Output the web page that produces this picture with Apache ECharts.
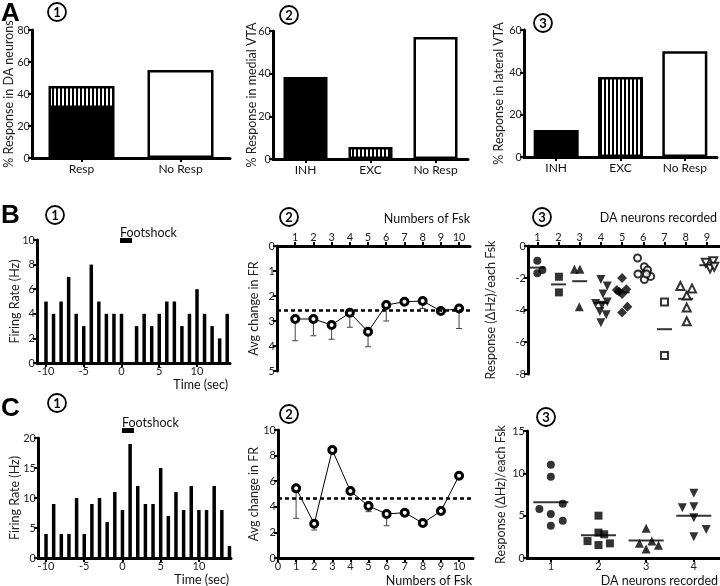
<!DOCTYPE html>
<html><head><meta charset="utf-8">
<script src="https://cdn.jsdelivr.net/npm/echarts@6/dist/echarts.min.js"></script>
<style>html,body{margin:0;padding:0;background:#fff}#c{width:720px;height:586px}</style>
</head><body><div id="c"></div>
<script>
// ---------- DATA ----------
const a1Cats = ['Resp', 'No Resp'];
const a1Inh = [31.3, '-'];
const a1Exc = [13.7, '-'];
const a1NoResp = ['-', 55];

const a2Cats = ['INH', 'EXC', 'No Resp'];
const a2Values = [38.4, 5.6, 57.2];
const a3Cats = ['INH', 'EXC', 'No Resp'];
const a3Values = [12.8, 37.8, 50];

const binTimes = [-10,-9,-8,-7,-6,-5,-4,-3,-2,-1,0,1,2,3,4,5,6,7,8,9,10,11,12,13,14];
const b1Rates = [5,4,5,7,4,3,8,5,4,4,4,0,3,4,3,4,5,5,3,4,6,4,3,2,4];
const c1Rates = [4,9,4,4,10,4,9,10,6,11,8,19,12,9,9,15,7,11,8,12,8,8,12,8,2];
const timeTicks = [-10,-5,0,5,10];

const fsk = [1,2,3,4,5,6,7,8,9,10];
const b2Mean = [2.92,2.92,3.16,2.67,3.43,2.36,2.23,2.2,2.6,2.5];
const b2ErrEnd = [3.79,3.59,3.73,3.25,4.03,3.0,2.3,2.5,2.65,3.3];
const b2Avg = 2.57;
const c2Mean = [5.44,2.68,8.44,5.23,4.06,3.44,3.54,2.73,3.67,6.43];
const c2ErrEnd = [3.1,2.19,8.3,5.1,3.62,2.52,3.4,2.6,3.5,6.3];
const c2Avg = 4.66;

// B3: per neuron, x (neuron index with jitter) and response values
const b3X = [
  [1.0,1.24,1.0],
  [2.02,2.02],
  [2.75,3.01,2.98],
  [4.0,4.3,4.1,3.75,4.05,4.3,3.95,4.25,4.0],
  [5.0,4.75,5.2,5.0,4.85,5.25,5.0],
  [5.73,6.05,6.2,5.75,6.35,6.05,6.15],
  [7.0,7.0],
  [7.75,8.3,8.05,8.05,8.05],
  [8.95,9.3,9.15,9.35]
];
const b3Y = [
  [-0.92,-1.5,-1.7],
  [-1.92,-2.9],
  [-1.46,-1.46,-3.8],
  [-2.1,-2.5,-3.0,-3.6,-3.7,-3.5,-4.1,-4.3,-4.8],
  [-2.0,-2.75,-2.7,-3.0,-2.85,-3.8,-4.15],
  [-0.75,-1.3,-1.5,-1.75,-1.9,-2.1,-1.75],
  [-3.5,-6.85],
  [-2.5,-2.65,-3.1,-3.85,-4.7],
  [-1.05,-0.95,-1.4,-1.3]
];
const b3Means = [-1.35,-2.4,-2.2,-3.55,-2.9,-1.6,-5.2,-3.3,-1.2];
const b3Neurons = [1,2,3,4,5,6,7,8,9];

const c3X = [
  [1.0,1.0,0.76,1.0,1.25,1.0,1.25],
  [2.0,2.0,1.77,2.12,2.24,2.0],
  [3.0,2.86,3.0,3.12,3.26],
  [4.0,3.76,4.0,4.0,4.0,4.26]
];
const c3Y = [
  [11.0,9.6,5.8,5.2,6.4,3.8,4.4],
  [5.0,3.0,2.0,2.8,1.73,1.53],
  [3.5,1.73,1.06,2.0,1.5],
  [7.64,5.94,6.06,4.76,2.52,3.38]
];
const c3Means = [6.57,2.7,2.08,5.0];
const c3Neurons = [1,2,3,4];

// ---------- STYLE ----------
const FF = 'Lato, "Open Sans", sans-serif';
const BLACK = '#000';
const hatch = document.createElement('canvas');
hatch.width = 4; hatch.height = 4;
(function(){const g = hatch.getContext('2d'); g.fillStyle='#fff'; g.fillRect(0,0,4,4); g.fillStyle='#000'; g.fillRect(0,0,2,4);})();
const HATCH = {image: hatch, repeat: 'repeat'};
const fills = {INH: BLACK, EXC: HATCH, 'No Resp': '#fff'};

const chart = echarts.init(document.getElementById('c'));

const grids = [
  {left:32, top:30, width:198, height:128},
  {left:273, top:31, width:195, height:128},
  {left:524, top:30, width:193, height:127},
  {left:37, top:240, width:193, height:123},
  {left:277, top:246, width:193, height:125},
  {left:528, top:246, width:192, height:128},
  {left:38, top:438, width:193, height:120},
  {left:278, top:430, width:195, height:128},
  {left:527, top:431, width:193, height:127}
];

const axLine = {show:true, onZero:false, lineStyle:{color:BLACK, width:3}};
const axTick = {show:true, length:4, lineStyle:{color:BLACK, width:2}};
const axLabelX = {color:'#222', fontSize:11, fontFamily:FF, margin:3};
const axLabelY = {color:'#222', fontSize:11, fontFamily:FF, margin:2};
const nameStyle = {color:'#222', fontSize:12.5, fontFamily:FF};

function catX(gi, data, extra) {
  return Object.assign({gridIndex:gi, type:'category', data, axisLine:axLine,
    axisTick:Object.assign({alignWithLabel:true}, axTick),
    axisLabel:Object.assign({}, axLabelX, {fontSize:12, color:'#111', margin:5}), splitLine:{show:false}}, extra||{});
}
function valAx(gi, min, max, interval, extra) {
  const o = {gridIndex:gi, type:'value', min, max, axisLine:axLine, axisTick:Object.assign({}, axTick),
    axisLabel:Object.assign({}, axLabelY), splitLine:{show:false}};
  if (interval) o.interval = interval;
  return Object.assign(o, extra||{});
}
function customX(gi, min, max, ticks, extra) {
  return Object.assign({gridIndex:gi, type:'value', min, max, axisLine:axLine,
    axisTick:Object.assign({customValues:ticks}, axTick),
    axisLabel:Object.assign({customValues:ticks}, axLabelX), splitLine:{show:false}}, extra||{});
}
function yName(name, gap) {
  return {name, nameLocation:'middle', nameGap:gap, nameMoveOverlap:false, nameTextStyle:nameStyle};
}

const xAxes = [
  catX(0, a1Cats),
  catX(1, a2Cats),
  catX(2, a3Cats),
  customX(3, -11.19, 14.37, timeTicks),
  customX(4, 0, 10.6, fsk, {position:'top'}),
  customX(5, 0.56, 9.62, b3Neurons, {position:'top'}),
  customX(6, -11.05, 14.2, timeTicks),
  customX(7, 0, 10.77, [0].concat(fsk)),
  customX(8, 0.5, 4.55, c3Neurons)
];
const yAxes = [
  valAx(0, 0, 80, 20, yName('% Response in DA neurons', 17)),
  valAx(1, 0, 60, 20, yName('% Response in medial VTA', 15)),
  valAx(2, 0, 60, 20, yName('% Response in lateral VTA', 19)),
  valAx(3, 0, 10, 2, yName('Firing Rate (Hz)', 16)),
  valAx(4, 0, 5, 1, Object.assign({inverse:true}, yName('Avg change in FR', 17))),
  valAx(5, -8, 0, 2, yName('Response (\u0394Hz)/each Fsk', 31)),
  valAx(6, 0, 20, 5, yName('Firing Rate (Hz)', 17)),
  valAx(7, 0, 10, 2, yName('Avg change in FR', 18)),
  valAx(8, 0, 15, 5, yName('Response (\u0394Hz)/each Fsk', 20))
];

const barBorder = {borderColor:BLACK, borderWidth:2.5};
const series = [];
// A1 stacked
series.push({type:'bar', xAxisIndex:0, yAxisIndex:0, stack:'a1', barWidth:66, data:a1Inh, itemStyle:Object.assign({color:BLACK}, barBorder)});
series.push({type:'bar', xAxisIndex:0, yAxisIndex:0, stack:'a1', barWidth:66, data:a1Exc, itemStyle:Object.assign({color:HATCH}, barBorder)});
series.push({type:'bar', xAxisIndex:0, yAxisIndex:0, stack:'a1', barWidth:66, data:a1NoResp, itemStyle:Object.assign({color:'#fff'}, barBorder)});
// A2, A3
series.push({type:'bar', xAxisIndex:1, yAxisIndex:1, barWidth:44,
  data:a2Values.map((v,i)=>({value:v, itemStyle:Object.assign({color:fills[a2Cats[i]]}, barBorder)}))});
series.push({type:'bar', xAxisIndex:2, yAxisIndex:2, barWidth:45,
  data:a3Values.map((v,i)=>({value:v, itemStyle:Object.assign({color:fills[a3Cats[i]]}, barBorder)}))});
// B1, C1 histograms
series.push({type:'bar', xAxisIndex:3, yAxisIndex:3, barWidth:3.5, data:binTimes.map((t,i)=>[t,b1Rates[i]]), itemStyle:{color:BLACK}});
series.push({type:'bar', xAxisIndex:6, yAxisIndex:6, barWidth:3.5, data:binTimes.map((t,i)=>[t,c1Rates[i]]), itemStyle:{color:BLACK}});

// error bars
function errSeries(xi, means, ends) {
  return {type:'custom', xAxisIndex:xi, yAxisIndex:xi, z:1,
    data:fsk.map((f,i)=>[f, means[i], ends[i]]),
    renderItem:(params, api)=>{
      const p0 = api.coord([api.value(0), api.value(1)]);
      const p1 = api.coord([api.value(0), api.value(2)]);
      return {type:'group', children:[
        {type:'line', shape:{x1:p0[0], y1:p0[1], x2:p1[0], y2:p1[1]}, style:{stroke:'#444', lineWidth:1}},
        {type:'line', shape:{x1:p1[0]-3, y1:p1[1], x2:p1[0]+3, y2:p1[1]}, style:{stroke:'#444', lineWidth:1}}
      ]};
    }};
}
function lineSeries(xi, means, avg) {
  return {type:'line', xAxisIndex:xi, yAxisIndex:xi, z:3,
    data:fsk.map((f,i)=>[f, means[i]]),
    symbol:'circle', symbolSize:7, showSymbol:true,
    itemStyle:{color:'#fff', borderColor:BLACK, borderWidth:3},
    lineStyle:{color:BLACK, width:1},
    markLine:{silent:true, symbol:'none', label:{show:false},
      lineStyle:{color:BLACK, type:[4,3], width:2.5}, data:[{yAxis:avg}]}};
}
series.push(errSeries(4, b2Mean, b2ErrEnd));
series.push(lineSeries(4, b2Mean, b2Avg));
series.push(errSeries(7, c2Mean, c2ErrEnd));
series.push(lineSeries(7, c2Mean, c2Avg));

// B3 scatter
const b3Sym = [
  {symbol:'circle', size:8, rot:0, fill:true},
  {symbol:'rect', size:8, rot:0, fill:true},
  {symbol:'triangle', size:9, rot:0, fill:true},
  {symbol:'triangle', size:9, rot:180, fill:true},
  {symbol:'rect', size:7, rot:45, fill:true},
  {symbol:'circle', size:7, rot:0, fill:false},
  {symbol:'rect', size:7, rot:0, fill:false},
  {symbol:'triangle', size:8, rot:0, fill:false},
  {symbol:'triangle', size:8, rot:180, fill:false}
];
b3X.forEach((xs, n)=>{
  const s = b3Sym[n];
  series.push({type:'scatter', xAxisIndex:5, yAxisIndex:5, z:3,
    symbol:s.symbol, symbolSize:s.size, symbolRotate:s.rot,
    itemStyle: s.fill ? {color:BLACK} : {color:'#fff', borderColor:BLACK, borderWidth:2},
    data:xs.map((x,i)=>[x, b3Y[n][i]])});
});
series.push({type:'scatter', xAxisIndex:5, yAxisIndex:5, z:2, symbol:'rect', symbolSize:[15,2],
  itemStyle:{color:BLACK}, data:b3Neurons.map((n,i)=>[n, b3Means[i]])});

// C3 scatter
const c3Sym = [
  {symbol:'circle', size:8, rot:0},
  {symbol:'rect', size:8, rot:0},
  {symbol:'triangle', size:9, rot:0},
  {symbol:'triangle', size:9, rot:180}
];
c3X.forEach((xs, n)=>{
  const s = c3Sym[n];
  series.push({type:'scatter', xAxisIndex:8, yAxisIndex:8, z:3,
    symbol:s.symbol, symbolSize:s.size, symbolRotate:s.rot, itemStyle:{color:BLACK},
    data:xs.map((x,i)=>[x, c3Y[n][i]])});
});
series.push({type:'scatter', xAxisIndex:8, yAxisIndex:8, z:2, symbol:'rect', symbolSize:[35,2],
  itemStyle:{color:BLACK}, data:c3Neurons.map((n,i)=>[n, c3Means[i]])});

// ---------- ANNOTATIONS ----------
function txt(text, x, y, opts) {
  return {type:'text', x, y, z:10, style:Object.assign({text, fill:'#111', fontSize:12.5, fontFamily:FF}, opts||{})};
}
function circNum(n, cx, cy) {
  return [
    {type:'circle', shape:{cx, cy, r:9}, style:{fill:'#fff', stroke:BLACK, lineWidth:1.8}, z:10},
    txt(String(n), cx, cy + 0.5, {fontWeight:'bold', fontSize:13, fill:BLACK, align:'center', verticalAlign:'middle'})
  ];
}
const graphic = [
  txt('A', 1, 1, {fontSize:26, fontWeight:'bold', fontFamily:'"Liberation Sans", Arial, sans-serif', fill:BLACK}),
  txt('B', 1, 203, {fontSize:26, fontWeight:'bold', fontFamily:'"Liberation Sans", Arial, sans-serif', fill:BLACK}),
  txt('C', 1, 396, {fontSize:26, fontWeight:'bold', fontFamily:'"Liberation Sans", Arial, sans-serif', fill:BLACK}),
  ...circNum(1, 57, 12), ...circNum(2, 289, 15), ...circNum(3, 543, 23),
  ...circNum(1, 55, 215), ...circNum(2, 289, 217), ...circNum(3, 542, 217),
  ...circNum(1, 57, 403), ...circNum(2, 289, 414), ...circNum(3, 546, 417),
  txt('Footshock', 120, 226),
  {type:'rect', shape:{x:120, y:238, width:12, height:5}, style:{fill:BLACK}, z:10},
  txt('Footshock', 122, 416),
  {type:'rect', shape:{x:122, y:428, width:12, height:5}, style:{fill:BLACK}, z:10},
  txt('Time (sec)', 228, 378, {align:'right'}),
  txt('Time (sec)', 229, 573, {align:'right'}),
  txt('Numbers of Fsk', 470, 212, {align:'right'}),
  txt('Numbers of Fsk', 472, 574, {align:'right'}),
  txt('DA neurons recorded', 717, 211, {align:'right'}),
  txt('DA neurons recorded', 718, 574, {align:'right'})
];

chart.setOption({
  animation:false,
  backgroundColor:'#fff',
  grid:grids,
  xAxis:xAxes,
  yAxis:yAxes,
  series,
  graphic
});
</script></body></html>
